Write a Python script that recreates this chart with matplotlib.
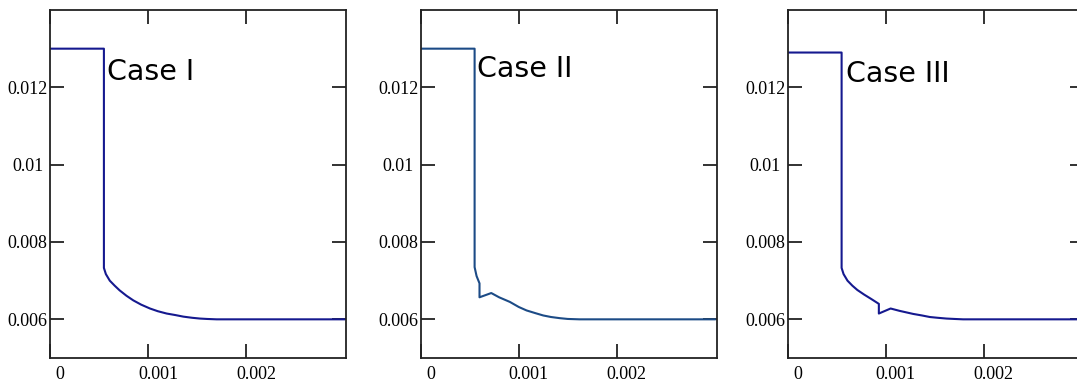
import matplotlib.pyplot as plt
import matplotlib.transforms as mtransforms

# данные трёх случаев
x1 = [0, 0.00055, 0.00055, 0.00057, 0.00061, 0.00066, 0.00071, 0.00078, 0.00085, 0.00093,
      0.00102, 0.0011, 0.00119, 0.00128, 0.00136, 0.00145, 0.00153, 0.0016, 0.0017, 0.003]
y1 = [0.013, 0.013, 0.00733, 0.00717, 0.0070, 0.00687, 0.00675, 0.00661, 0.00649, 0.00638,
      0.00628, 0.00621, 0.00615, 0.00611, 0.00607, 0.00604, 0.00602, 0.00601, 0.006, 0.006]

x2 = [0, 0.00055, 0.00055, 0.00057, 0.0006, 0.0006, 0.00072, 0.0008, 0.00091, 0.001,
      0.00108, 0.00117, 0.00125, 0.00133, 0.00142, 0.0015, 0.00162, 0.003]
y2 = [0.0130, 0.0130, 0.00735, 0.00712, 0.00693, 0.00657, 0.00668, 0.00657, 0.00645, 0.00632,
      0.00623, 0.00616, 0.0061, 0.00606, 0.00603, 0.00601, 0.006, 0.006]

x3 = [0, 0.00055, 0.00055, 0.00057, 0.00061, 0.00066, 0.00071, 0.00078, 0.00085, 0.00093,
      0.00093, 0.00105, 0.00114, 0.00121, 0.00128, 0.00137, 0.00145, 0.00153, 0.00162, 0.0017,
      0.00179, 0.003]
y3 = [0.0129, 0.0129, 0.00733, 0.00717, 0.0070, 0.00687, 0.00676, 0.00664, 0.00653, 0.0064,
      0.00615, 0.00628, 0.00622, 0.00618, 0.00614, 0.0061, 0.00606, 0.00604, 0.00602, 0.00601,
      0.006, 0.006]

cases = ['Case I', 'Case II', 'Case III']
colors = ['#15198f', '#1c4b86', '#15198f']
xs = [x1, x2, x3]
ys = [y1, y2, y3]
lefts = [50 / 1077, 420.7 / 1077, 787.7 / 1077]
text_pos = [(0.000577, 0.0122), (0.00057, 0.01226), (0.00059, 0.01215)]

fig = plt.figure(figsize=(10.77, 3.86), dpi=100)

for i in range(3):
    ax = fig.add_axes([lefts[i], 28 / 386, 296 / 1077, 348 / 386])
    ax.plot(xs[i], ys[i], color=colors[i], lw=1.5)
    ax.set_xlim(0, 0.00302)
    ax.set_ylim(0.005, 0.014)
    ax.set_xticks([0, 0.001, 0.002])
    ax.set_xticklabels(['0', '0.001', '0.002'])
    ax.set_yticks([0.006, 0.008, 0.01, 0.012])
    ax.set_yticklabels(['0.006', '0.008', '0.01', '0.012'])
    ax.tick_params(direction='in', length=10, width=1.3, top=True, right=True,
                   labelsize=13, color='#222222')
    ax.tick_params(axis='y', pad=16)
    ax.tick_params(axis='x', pad=6)
    for lab in ax.get_yticklabels():
        lab.set_horizontalalignment('center')
        lab.set_fontfamily('Liberation Serif')
    offset = mtransforms.ScaledTranslation(10 / 100, 0, fig.dpi_scale_trans)
    for lab in ax.get_xticklabels():
        lab.set_fontfamily('Liberation Serif')
        lab.set_transform(lab.get_transform() + offset)
    for sp in ax.spines.values():
        sp.set_linewidth(1.3)
        sp.set_color('#222222')
    ax.text(text_pos[i][0], text_pos[i][1], cases[i], fontsize=20.5,
            va='baseline', ha='left', family='DejaVu Sans')

fig.savefig('out.png', dpi=100)
